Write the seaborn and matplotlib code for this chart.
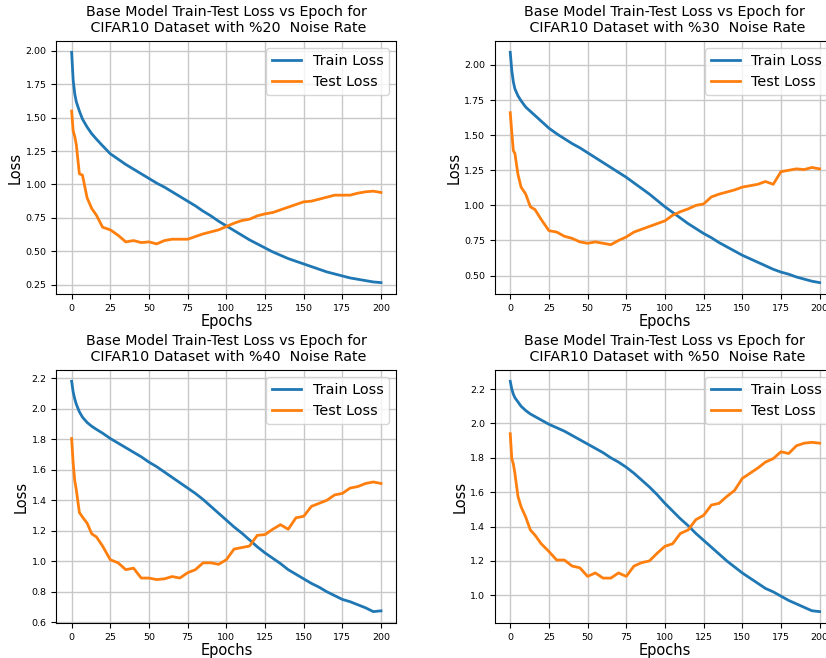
import matplotlib
matplotlib.use("Agg")
import matplotlib.pyplot as plt
import seaborn as sns

# ======================================
# Data
# ======================================

EPOCHS = [0, 1, 2, 3, 5, 7, 10, 13, 16, 20, 25, 30, 35, 40, 45, 50, 55, 60,
          65, 70, 75, 80, 85, 90, 95, 100, 105, 110, 115, 120, 125, 130, 135,
          140, 145, 150, 155, 160, 165, 170, 175, 180, 185, 190, 195, 200]

NOISE_RATES = ["20", "30", "40", "50"]

train_20 = [1.99, 1.78, 1.68, 1.62, 1.55, 1.49, 1.43, 1.38, 1.34, 1.29, 1.23,
            1.19, 1.15, 1.115, 1.08, 1.045, 1.01, 0.98, 0.945, 0.91, 0.875,
            0.84, 0.80, 0.765, 0.725, 0.69, 0.655, 0.62, 0.585, 0.555, 0.525,
            0.495, 0.47, 0.445, 0.425, 0.405, 0.385, 0.365, 0.345, 0.33, 0.315,
            0.30, 0.29, 0.28, 0.27, 0.265]
test_20 = [1.55, 1.40, 1.36, 1.30, 1.08, 1.07, 0.90, 0.82, 0.77, 0.68, 0.66,
           0.62, 0.57, 0.58, 0.565, 0.57, 0.555, 0.58, 0.59, 0.59, 0.59, 0.61,
           0.63, 0.645, 0.66, 0.685, 0.71, 0.73, 0.74, 0.765, 0.78, 0.79, 0.81,
           0.83, 0.85, 0.87, 0.875, 0.89, 0.905, 0.92, 0.92, 0.92, 0.935,
           0.945, 0.95, 0.94]

train_30 = [2.09, 1.96, 1.88, 1.83, 1.78, 1.745, 1.70, 1.67, 1.64, 1.60, 1.55,
            1.51, 1.475, 1.44, 1.41, 1.375, 1.34, 1.305, 1.27, 1.235, 1.20,
            1.16, 1.12, 1.08, 1.035, 0.99, 0.95, 0.91, 0.87, 0.835, 0.80, 0.77,
            0.735, 0.705, 0.675, 0.645, 0.62, 0.595, 0.57, 0.545, 0.525, 0.51,
            0.49, 0.475, 0.46, 0.45]
test_30 = [1.66, 1.52, 1.39, 1.37, 1.22, 1.13, 1.08, 0.99, 0.97, 0.90, 0.82,
           0.81, 0.78, 0.765, 0.74, 0.73, 0.74, 0.73, 0.72, 0.75, 0.775, 0.81,
           0.83, 0.85, 0.87, 0.89, 0.93, 0.955, 0.975, 1.00, 1.01, 1.06, 1.08,
           1.095, 1.11, 1.13, 1.14, 1.15, 1.17, 1.15, 1.24, 1.25, 1.26, 1.255,
           1.27, 1.26]

train_40 = [2.18, 2.11, 2.065, 2.03, 1.98, 1.945, 1.91, 1.885, 1.865, 1.84,
            1.805, 1.775, 1.745, 1.715, 1.685, 1.65, 1.62, 1.585, 1.55, 1.515,
            1.48, 1.445, 1.405, 1.36, 1.315, 1.27, 1.225, 1.185, 1.14, 1.095,
            1.055, 1.02, 0.985, 0.945, 0.915, 0.885, 0.855, 0.83, 0.80, 0.775,
            0.75, 0.735, 0.715, 0.695, 0.67, 0.675]
test_40 = [1.805, 1.64, 1.53, 1.47, 1.32, 1.29, 1.25, 1.18, 1.16, 1.10, 1.01,
           0.99, 0.945, 0.955, 0.89, 0.89, 0.88, 0.885, 0.90, 0.89, 0.925,
           0.945, 0.99, 0.99, 0.98, 1.01, 1.08, 1.09, 1.10, 1.17, 1.175, 1.21,
           1.24, 1.21, 1.285, 1.295, 1.36, 1.38, 1.40, 1.435, 1.445, 1.48,
           1.49, 1.51, 1.52, 1.51]

train_50 = [2.245, 2.20, 2.17, 2.15, 2.125, 2.10, 2.075, 2.055, 2.04, 2.02,
            1.995, 1.975, 1.955, 1.93, 1.905, 1.88, 1.855, 1.83, 1.80, 1.775,
            1.745, 1.71, 1.67, 1.63, 1.585, 1.535, 1.49, 1.445, 1.405, 1.36,
            1.32, 1.28, 1.24, 1.20, 1.165, 1.13, 1.10, 1.07, 1.04, 1.02, 0.995,
            0.97, 0.95, 0.93, 0.91, 0.905]
test_50 = [1.94, 1.795, 1.765, 1.71, 1.575, 1.515, 1.455, 1.38, 1.35, 1.30,
           1.255, 1.205, 1.205, 1.17, 1.16, 1.11, 1.13, 1.10, 1.10, 1.13, 1.11,
           1.17, 1.19, 1.20, 1.245, 1.285, 1.30, 1.36, 1.38, 1.44, 1.465,
           1.525, 1.535, 1.575, 1.61, 1.68, 1.71, 1.74, 1.775, 1.795, 1.835,
           1.825, 1.87, 1.885, 1.89, 1.885]

TRAIN = [train_20, train_30, train_40, train_50]
TEST = [test_20, test_30, test_40, test_50]

# axes rectangles in figure fraction (right column runs past the edge)
POSITIONS = [
    [0.068, 0.553, 0.412, 0.385],
    [0.599, 0.553, 0.412, 0.385],
    [0.068, 0.053, 0.412, 0.385],
    [0.599, 0.053, 0.412, 0.385],
]


# ======================================
# Plot
# ======================================

def main():

    fig = plt.figure(figsize=(8.26, 6.58), dpi=100)

    for rate, train, test, pos in zip(NOISE_RATES, TRAIN, TEST, POSITIONS):

        ax = fig.add_axes(pos)

        sns.lineplot(x=EPOCHS, y=train, ax=ax, color="#1f77b4",
                     linewidth=2.0, label="Train Loss")
        sns.lineplot(x=EPOCHS, y=test, ax=ax, color="#ff7f0e",
                     linewidth=2.0, label="Test Loss")

        ax.set_xticks([0, 25, 50, 75, 100, 125, 150, 175, 200])
        ax.grid(True, color="#c8c8c8", linewidth=1.0)
        ax.tick_params(labelsize=6.8)

        ax.set_title(
            "Base Model Train-Test Loss vs Epoch for\n"
            f" CIFAR10 Dataset with %{rate}  Noise Rate",
            fontsize=10.3
        )
        ax.set_xlabel("Epochs", fontsize=10.5, labelpad=1)
        ax.set_ylabel("Loss", fontsize=10.5, labelpad=2)
        ax.legend(loc="upper right", fontsize=10.4)

    fig.savefig("out.png", dpi=100)
    plt.close(fig)


if __name__ == "__main__":
    main()
